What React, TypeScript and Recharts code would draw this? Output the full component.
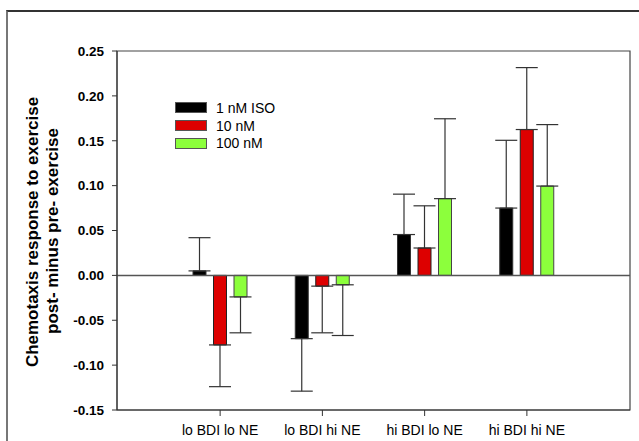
import React from "react";
import {
  BarChart,
  Bar,
  XAxis,
  YAxis,
  ErrorBar,
  ReferenceLine,
  ReferenceArea,
} from "recharts";

const groups = ["lo BDI lo NE", "lo BDI hi NE", "hi BDI lo NE", "hi BDI hi NE"];
const iso1 = [0.005, -0.0705, 0.0455, 0.075];
const iso1Err = [0.037, 0.0585, 0.045, 0.0755];
const iso10 = [-0.0775, -0.012, 0.0305, 0.1625];
const iso10Err = [0.0465, 0.052, 0.047, 0.069];
const iso100 = [-0.024, -0.0105, 0.0855, 0.0995];
const iso100Err = [0.04, 0.0565, 0.089, 0.0685];
const yTicks = [-0.15, -0.1, -0.05, 0, 0.05, 0.1, 0.15, 0.2, 0.25];

const SERIES = [
  { key: "iso1", name: "1 nM ISO", fill: "#000000", stroke: "#333333" },
  { key: "iso10", name: "10 nM", fill: "#dd0000", stroke: "#222222" },
  { key: "iso100", name: "100 nM", fill: "#8cff3c", stroke: "#444444" },
];

const FONT = '"Liberation Sans", Arial, Helvetica, sans-serif';

// error bars only point away from zero
const oneSided = (v: number, e: number) => (v >= 0 ? [0, e] : [e, 0]);

const data = groups.map((g, i) => ({
  group: g,
  iso1: iso1[i],
  iso1Err: oneSided(iso1[i], iso1Err[i]),
  iso10: iso10[i],
  iso10Err: oneSided(iso10[i], iso10Err[i]),
  iso100: iso100[i],
  iso100Err: oneSided(iso100[i], iso100Err[i]),
}));

function LegendBox() {
  return (
    <div
      style={{
        position: "absolute",
        left: 175,
        top: 99,
        fontFamily: FONT,
        fontSize: 14,
        color: "#000",
      }}
    >
      {SERIES.map((s) => (
        <div
          key={s.key}
          style={{ display: "flex", alignItems: "center", height: 17.8 }}
        >
          <div
            style={{
              width: 30,
              height: 9,
              background: s.fill,
              border: "1px solid #555",
              marginRight: 9,
            }}
          />
          <span>{s.name}</span>
        </div>
      ))}
    </div>
  );
}

function YLabel() {
  return (
    <g>
      <text
        transform="translate(38,232) rotate(-90)"
        textAnchor="middle"
        fontFamily={FONT}
        fontWeight="bold"
        fontSize={17}
        fill="#000"
      >
        Chemotaxis response to exercise
      </text>
      <text
        transform="translate(58,231) rotate(-90)"
        textAnchor="middle"
        fontFamily={FONT}
        fontWeight="bold"
        fontSize={17}
        fill="#000"
      >
        post- minus pre- exercise
      </text>
    </g>
  );
}

export default function App() {
  return (
    <div
      style={{
        position: "absolute",
        left: 0,
        top: 0,
        width: 639,
        height: 441,
        overflow: "hidden",
        background: "#fff",
      }}
    >
      <div
        style={{
          position: "absolute",
          left: 6,
          top: 10,
          width: 700,
          height: 500,
          borderLeft: "2px solid #777",
          borderTop: "2px solid #333",
        }}
      />
      <div style={{ position: "absolute", left: 0, top: 0 }}>
        <BarChart
          width={639}
          height={441}
          data={data}
          margin={{ top: 51, right: 9, bottom: 1, left: 57 }}
          barSize={13}
          barGap={7.5}
          style={{ fontFamily: FONT }}
        >
          <XAxis
            dataKey="group"
            padding={{ left: 52, right: 52 }}
            height={30}
            tickSize={6}
            tickMargin={9}
            stroke="#333"
            tick={{ fill: "#000", fontSize: 14, fontFamily: FONT }}
            interval={0}
          />
          <XAxis xAxisId="frame" dataKey="group" hide />
          <YAxis
            width={60}
            domain={[-0.15, 0.25]}
            ticks={yTicks}
            allowDataOverflow
            tickFormatter={(v: number) => v.toFixed(2)}
            tickSize={5}
            tickMargin={8}
            stroke="#333"
            tick={{ fill: "#000", fontSize: 13.5, fontWeight: "bold", fontFamily: FONT }}
            label={<YLabel />}
          />
          <ReferenceArea
            xAxisId="frame"
            y1={-0.15}
            y2={0.25}
            fill="none"
            fillOpacity={0}
            stroke="#444"
            strokeWidth={1.2}
          />
          <ReferenceLine y={0} stroke="#555" strokeWidth={1.5} />
          {SERIES.map((s) => (
            <Bar
              key={s.key}
              dataKey={s.key}
              name={s.name}
              fill={s.fill}
              stroke={s.stroke}
              strokeWidth={1}
              isAnimationActive={false}
            >
              <ErrorBar
                dataKey={`${s.key}Err`}
                direction="y"
                width={11}
                stroke="#333"
                strokeWidth={1.2}
              />
            </Bar>
          ))}
        </BarChart>
      </div>
      <LegendBox />
    </div>
  );
}
